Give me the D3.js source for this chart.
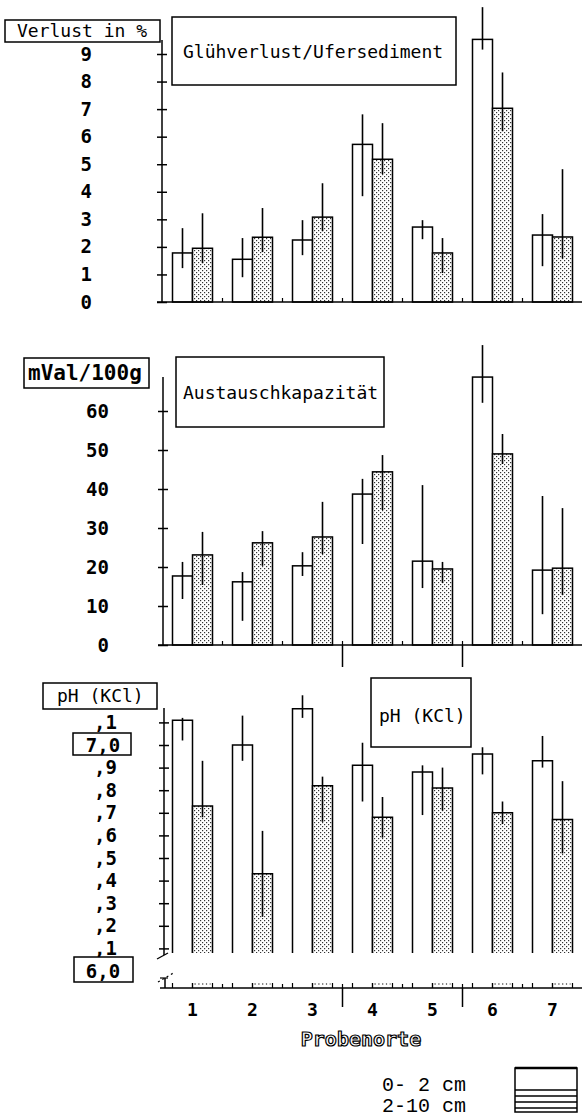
<!DOCTYPE html>
<html>
<head>
<meta charset="utf-8">
<script src="https://cdn.jsdelivr.net/npm/d3@7"></script>
<style>
  body { margin: 0; background: #fff; }
  svg { display: block; }
  .mono { font-family: "DejaVu Sans Mono", monospace; }
</style>
</head>
<body>
<div id="chart"></div>
<script>
// Probenorte (sampling sites)
var sites = ["1", "2", "3", "4", "5", "6", "7"];
var depths = ["0- 2 cm", "2-10 cm"];

// Glühverlust in % (0-2 cm = white, 2-10 cm = dotted), error bars as [low, high]
var gluehTop = [1.78, 1.55, 2.25, 5.72, 2.72, 9.53, 2.43];
var gluehTopErr = [[1.23, 2.68], [0.9, 2.32], [1.7, 2.97], [3.84, 6.81], [2.28, 2.97], [9.16, 10.7], [1.3, 3.19]];
var gluehSub = [1.95, 2.35, 3.08, 5.18, 1.78, 7.03, 2.36];
var gluehSubErr = [[1.41, 3.22], [1.81, 3.41], [2.57, 4.31], [4.64, 6.49], [1.05, 2.32], [6.2, 8.33], [1.58, 4.82]];

// Austauschkapazität in mVal/100g
var akTop = [17.7, 16.2, 20.3, 38.7, 21.5, 68.7, 19.2];
var akTopErr = [[11.8, 21.3], [6.2, 18.7], [17.7, 23.8], [25.9, 42.6], [14.6, 41.0], [62.1, 76.9], [7.9, 38.2]];
var akSub = [23.1, 26.2, 27.7, 44.4, 19.5, 49.0, 19.7];
var akSubErr = [[15.4, 29.0], [20.3, 29.2], [23.3, 36.7], [34.6, 48.7], [15.9, 21.3], [46.4, 54.1], [12.8, 35.1]];

// pH (KCl)
var phTop = [7.11, 7.00, 7.16, 6.91, 6.88, 6.96, 6.93];
var phTopErr = [[7.02, 7.12], [6.93, 7.13], [7.12, 7.22], [6.75, 7.01], [6.69, 6.91], [6.87, 6.99], [6.90, 7.04]];
var phSub = [6.73, 6.43, 6.82, 6.68, 6.81, 6.70, 6.67];
var phSubErr = [[6.68, 6.93], [6.24, 6.62], [6.66, 6.86], [6.59, 6.77], [6.71, 6.90], [6.65, 6.75], [6.52, 6.84]];

// tick values / labels
var gluehTicks = [0, 1, 2, 3, 4, 5, 6, 7, 8, 9];
var akTicks = [0, 10, 20, 30, 40, 50, 60];
var phTicks = [6.1, 6.2, 6.3, 6.4, 6.5, 6.6, 6.7, 6.8, 6.9, 7.0, 7.1];

var W = 582, H = 1119;
var svg = d3.select("#chart").append("svg")
    .attr("width", W)
    .attr("height", H);

// dotted fill for the 2-10 cm bars
var pat = svg.append("defs").append("pattern")
    .attr("id", "dots")
    .attr("width", 4).attr("height", 4)
    .attr("patternUnits", "userSpaceOnUse");
pat.append("rect").attr("width", 4).attr("height", 4).attr("fill", "#fff");
pat.append("rect").attr("x", 0).attr("y", 0).attr("width", 1.2).attr("height", 1.2).attr("fill", "#333");
pat.append("rect").attr("x", 2).attr("y", 2).attr("width", 1.2).attr("height", 1.2).attr("fill", "#333");

// x scales shared by all three panels
var x0 = d3.scaleBand()
    .domain(sites)
    .range([162.5, 582.5])
    .paddingInner(1 / 3)
    .paddingOuter(1 / 6);
var x1 = d3.scaleBand()
    .domain(depths)
    .range([0, x0.bandwidth()]);

var step = x0.step();
function boundary(i) { return x0(sites[i]) + x0.bandwidth() + (step - x0.bandwidth()) / 2; }

function boxLabel(x, y, w, h, txt, cx, cy, size, weight, anchor) {
    svg.append("rect")
        .attr("x", x).attr("y", y).attr("width", w).attr("height", h)
        .attr("fill", "#fff").attr("stroke", "#000").attr("stroke-width", 1.5);
    svg.append("text")
        .attr("class", "mono")
        .attr("x", cx).attr("y", cy)
        .attr("dy", "0.35em")
        .attr("text-anchor", anchor || "start")
        .attr("font-size", size)
        .attr("font-weight", weight || "normal")
        .text(txt);
}

function drawYAxis(y, ticks, axisX, topY, bottomY, labelOffset, fmt) {
    var g = svg.append("g")
        .attr("transform", "translate(" + axisX + ",0)")
        .call(d3.axisLeft(y).tickValues(ticks).tickSize(5).tickPadding(labelOffset - 5).tickFormat(fmt));
    g.select(".domain").remove();
    g.selectAll(".tick line").attr("x1", 5).attr("x2", -5).attr("stroke-width", 1.5);
    g.selectAll(".tick text")
        .attr("class", "mono")
        .attr("font-size", 19)
        .attr("font-weight", "bold");
    svg.append("line")
        .attr("x1", axisX).attr("x2", axisX)
        .attr("y1", topY).attr("y2", bottomY)
        .attr("stroke", "#000").attr("stroke-width", 1.5);
}

function drawBars(y, top, topErr, sub, subErr, baseY, openBottom) {
    var series = [
        {key: depths[0], vals: top, err: topErr, fill: "#fff"},
        {key: depths[1], vals: sub, err: subErr, fill: "url(#dots)"}
    ];
    series.forEach(function(s) {
        var g = svg.append("g");
        g.selectAll("rect")
            .data(s.vals)
            .enter().append("rect")
            .attr("x", function(d, i) { return x0(sites[i]) + x1(s.key); })
            .attr("y", function(d) { return y(d); })
            .attr("width", x1.bandwidth())
            .attr("height", function(d) { return baseY - y(d); })
            .attr("fill", s.fill)
            .attr("stroke", openBottom ? "none" : "#000")
            .attr("stroke-width", 1.5);
        if (openBottom) {
            g.selectAll("path")
                .data(s.vals)
                .enter().append("path")
                .attr("d", function(d, i) {
                    var bx = x0(sites[i]) + x1(s.key);
                    return "M" + bx + "," + baseY + "V" + y(d) + "H" + (bx + x1.bandwidth()) + "V" + baseY;
                })
                .attr("fill", "none")
                .attr("stroke", "#000")
                .attr("stroke-width", 1.5);
        }
        g.selectAll("line")
            .data(s.err)
            .enter().append("line")
            .attr("x1", function(d, i) { return x0(sites[i]) + x1(s.key) + x1.bandwidth() / 2; })
            .attr("x2", function(d, i) { return x0(sites[i]) + x1(s.key) + x1.bandwidth() / 2; })
            .attr("y1", function(d) { return y(d[0]); })
            .attr("y2", function(d) { return y(d[1]); })
            .attr("stroke", "#000")
            .attr("stroke-width", 1.6);
    });
}

function drawBaseline(baseY, fromX) {
    svg.append("line")
        .attr("x1", fromX).attr("x2", W)
        .attr("y1", baseY).attr("y2", baseY)
        .attr("stroke", "#000").attr("stroke-width", 1.5);
    for (var i = 0; i < sites.length - 1; i++) {
        svg.append("line")
            .attr("x1", boundary(i)).attr("x2", boundary(i))
            .attr("y1", baseY).attr("y2", baseY - 4)
            .attr("stroke", "#000").attr("stroke-width", 1.2);
    }
}

function dividers(y1, y2) {
    [2, 4].forEach(function(i) {
        svg.append("line")
            .attr("x1", boundary(i)).attr("x2", boundary(i))
            .attr("y1", y1).attr("y2", y2)
            .attr("stroke", "#000").attr("stroke-width", 1.5);
    });
}

// ---------- Panel 1: Glühverlust ----------
var y1s = d3.scaleLinear().domain([0, 9]).range([302, 54]);
drawBars(y1s, gluehTop, gluehTopErr, gluehSub, gluehSubErr, 302, false);
drawBaseline(302, 157);
drawYAxis(y1s, gluehTicks, 162, 40, 302, 70, d3.format("d"));
boxLabel(5, 20, 155, 22, "Verlust in %", 17, 31, 18);
boxLabel(172, 17, 284, 68, "Glühverlust/Ufersediment", 183, 52, 18);

// ---------- Panel 2: Austauschkapazität ----------
var y2s = d3.scaleLinear().domain([0, 60]).range([645, 411]);
drawBars(y2s, akTop, akTopErr, akSub, akSubErr, 645, false);
drawBaseline(645, 158);
drawYAxis(y2s, akTicks, 163, 377, 645, 54, d3.format("d"));
boxLabel(24, 358, 125, 30, "mVal/100g", 28, 373, 21, "bold");
boxLabel(176, 357, 208, 70, "Austauschkapazität", 183, 393, 18);
dividers(645, 667);

// ---------- Panel 3: pH (KCl), broken axis ----------
var y3s = d3.scaleLinear().domain([6.0, 7.2]).range([971, 699.8]);
var breakY = 953, base3 = 988;
drawBars(y3s, phTop, phTopErr, phSub, phSubErr, breakY, true);
drawYAxis(y3s, phTicks, 164, 708, 955, 47, function(d) {
    return Math.abs(d - 7.0) < 1e-6 ? "" : "," + Math.round((d * 10) % 10);
});

// stubs of the bars just above the lower baseline
[{key: depths[0], fill: "#fff"}, {key: depths[1], fill: "url(#dots)"}].forEach(function(s) {
    svg.append("g").selectAll("path")
        .data(sites)
        .enter().append("path")
        .attr("d", function(d) {
            var bx = x0(d) + x1(s.key);
            return "M" + bx + "," + base3 + "V" + (base3 - 5) + "M" + (bx + x1.bandwidth()) + "," + (base3 - 5) + "V" + base3;
        })
        .attr("fill", "none").attr("stroke", "#000").attr("stroke-width", 1.2);
    if (s.key === depths[1]) {
        svg.append("g").selectAll("line")
            .data(sites)
            .enter().append("line")
            .attr("x1", function(d) { return x0(d) + x1(s.key) + 2; })
            .attr("x2", function(d) { return x0(d) + x1(s.key) + x1.bandwidth() - 2; })
            .attr("y1", base3 - 4).attr("y2", base3 - 4)
            .attr("stroke", "#000").attr("stroke-width", 1.2)
            .attr("stroke-dasharray", "1.2,2.6");
    }
});
drawBaseline(base3, 160);

// break marks
svg.append("line").attr("x1", 157).attr("y1", 959).attr("x2", 168).attr("y2", 953)
    .attr("stroke", "#000").attr("stroke-width", 1.3);
svg.append("line").attr("x1", 165).attr("x2", 165).attr("y1", 978).attr("y2", base3)
    .attr("stroke", "#000").attr("stroke-width", 1.5);
svg.append("line").attr("x1", 160).attr("x2", 168).attr("y1", 978).attr("y2", 978)
    .attr("stroke", "#000").attr("stroke-width", 1.2);
svg.append("line").attr("x1", 158).attr("y1", 982).attr("x2", 175).attr("y2", 972)
    .attr("stroke", "#000").attr("stroke-width", 1.2).attr("stroke-dasharray", "2,3");

boxLabel(43, 683, 114, 26, "pH (KCl)", 57, 696, 18);
boxLabel(371, 678, 100, 69, "pH (KCl)", 379, 716, 18);
boxLabel(73, 733, 58, 22, "7,0", 103, y3s(7.0), 19, "bold", "middle");
boxLabel(74, 957, 59, 25, "6,0", 103, y3s(6.0), 19, "bold", "middle");

// site labels
var xa = svg.append("g")
    .attr("transform", "translate(0," + base3 + ")")
    .call(d3.axisBottom(x0).tickSize(0).tickPadding(15));
xa.select(".domain").remove();
xa.selectAll(".tick text")
    .attr("class", "mono")
    .attr("font-size", 18)
    .attr("font-weight", "bold");
dividers(base3, 1007);

svg.append("text")
    .attr("class", "mono")
    .attr("x", 361).attr("y", 1039)
    .attr("dy", "0.35em")
    .attr("text-anchor", "middle")
    .attr("font-size", 20)
    .attr("font-weight", "bold")
    .attr("fill", "#fff")
    .attr("stroke", "#000")
    .attr("stroke-width", 1.2)
    .text("Probenorte");

// legend
var legendY = [1084, 1105];
depths.forEach(function(d, i) {
    svg.append("text")
        .attr("x", 382).attr("y", legendY[i])
        .attr("dy", "0.35em")
        .attr("font-family", "Liberation Mono, monospace")
        .attr("font-size", 20)
        .attr("xml:space", "preserve")
        .style("white-space", "pre")
        .text(d);
});
svg.append("rect")
    .attr("x", 515).attr("y", 1068).attr("width", 62).attr("height", 44)
    .attr("fill", "#fff").attr("stroke", "#000").attr("stroke-width", 1.5);
svg.append("line").attr("x1", 515).attr("x2", 577).attr("y1", 1068).attr("y2", 1068)
    .attr("stroke", "#000").attr("stroke-width", 2.5);
[1090, 1096, 1102, 1108].forEach(function(ly) {
    svg.append("line").attr("x1", 515).attr("x2", 577).attr("y1", ly).attr("y2", ly)
        .attr("stroke", "#000").attr("stroke-width", 1.5);
});
</script>
</body>
</html>
